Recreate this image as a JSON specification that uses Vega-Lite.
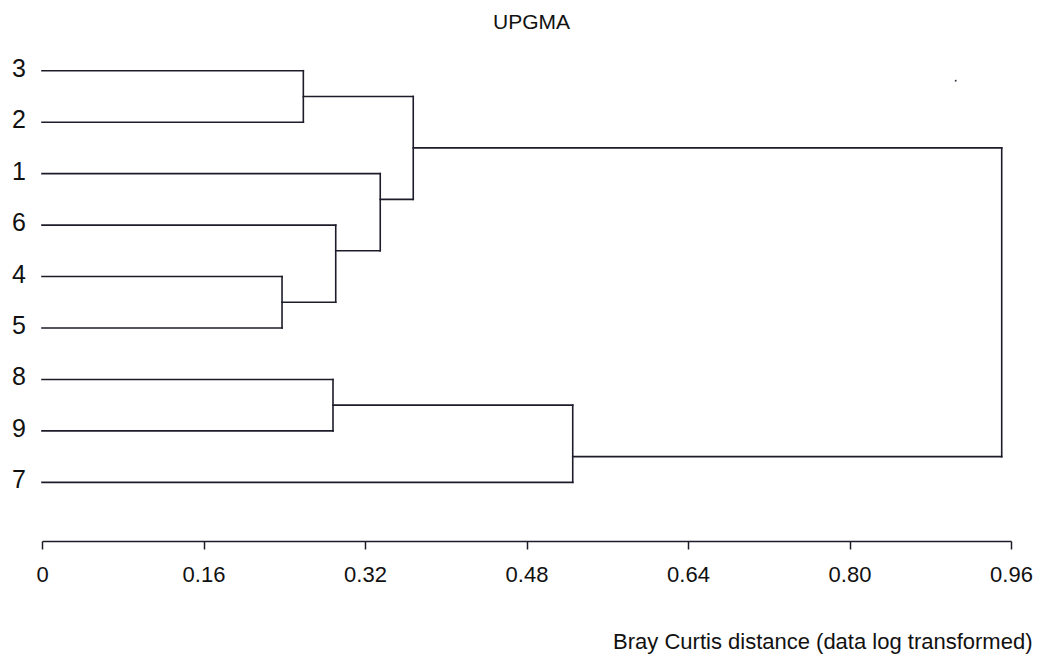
{
  "$schema": "https://vega.github.io/schema/vega-lite/v6.json",
  "autosize": {"type": "none"},
  "width": 969,
  "height": 496,
  "padding": {"left": 42, "top": 45, "right": 26, "bottom": 116},
  "background": "white",
  "config": {"view": {"stroke": null}, "font": "Liberation Sans"},
  "title": {"text": "UPGMA", "fontSize": 21, "fontWeight": "normal", "font": "Liberation Sans", "color": "#111111", "anchor": "middle", "dx": 5, "offset": 12},
  "datasets": {
    "segments": [
      {"x1": 0, "x2": 0.2589, "y1": 0, "y2": 0},
      {"x1": 0, "x2": 0.2589, "y1": 1, "y2": 1},
      {"x1": 0, "x2": 0.3351, "y1": 2, "y2": 2},
      {"x1": 0, "x2": 0.2910, "y1": 3, "y2": 3},
      {"x1": 0, "x2": 0.2378, "y1": 4, "y2": 4},
      {"x1": 0, "x2": 0.2378, "y1": 5, "y2": 5},
      {"x1": 0, "x2": 0.2883, "y1": 6, "y2": 6},
      {"x1": 0, "x2": 0.2883, "y1": 7, "y2": 7},
      {"x1": 0, "x2": 0.5258, "y1": 8, "y2": 8},
      {"x1": 0.2589, "x2": 0.3678, "y1": 0.5, "y2": 0.5},
      {"x1": 0.2378, "x2": 0.2910, "y1": 4.5, "y2": 4.5},
      {"x1": 0.2910, "x2": 0.3351, "y1": 3.5, "y2": 3.5},
      {"x1": 0.3351, "x2": 0.3678, "y1": 2.5, "y2": 2.5},
      {"x1": 0.3678, "x2": 0.9508, "y1": 1.5, "y2": 1.5},
      {"x1": 0.2883, "x2": 0.5258, "y1": 6.5, "y2": 6.5},
      {"x1": 0.5258, "x2": 0.9508, "y1": 7.5, "y2": 7.5},
      {"x1": 0.2589, "x2": 0.2589, "y1": 0, "y2": 1},
      {"x1": 0.2378, "x2": 0.2378, "y1": 4, "y2": 5},
      {"x1": 0.2910, "x2": 0.2910, "y1": 3, "y2": 4.5},
      {"x1": 0.3351, "x2": 0.3351, "y1": 2, "y2": 3.5},
      {"x1": 0.3678, "x2": 0.3678, "y1": 0.5, "y2": 2.5},
      {"x1": 0.2883, "x2": 0.2883, "y1": 6, "y2": 7},
      {"x1": 0.5258, "x2": 0.5258, "y1": 6.5, "y2": 8},
      {"x1": 0.9508, "x2": 0.9508, "y1": 1.5, "y2": 7.5}
    ],
    "leaves": [
      {"label": "3", "row": 0},
      {"label": "2", "row": 1},
      {"label": "1", "row": 2},
      {"label": "6", "row": 3},
      {"label": "4", "row": 4},
      {"label": "5", "row": 5},
      {"label": "8", "row": 6},
      {"label": "9", "row": 7},
      {"label": "7", "row": 8}
    ],
    "dot": [{"x": 0.9052, "y": 0.194}]
  },
  "layer": [
    {
      "data": {"name": "segments"},
      "mark": {"type": "rule", "color": "#1c1c2a", "strokeWidth": 1.6, "strokeCap": "square"},
      "encoding": {
        "x": {"field": "x1", "type": "quantitative",
          "scale": {"domain": [0, 0.96], "nice": false, "zero": true},
          "axis": {
            "values": [0, 0.16, 0.32, 0.48, 0.64, 0.8, 0.96],
            "labelExpr": "datum.value == 0 ? '0' : format(datum.value, '.2f')",
            "grid": false,
            "domainColor": "#1c1c2a", "domainWidth": 1.5,
            "tickColor": "#1c1c2a", "tickWidth": 1.5, "tickSize": 8,
            "labelFontSize": 22, "labelColor": "#111111", "labelFont": "Liberation Sans",
            "labelPadding": 15, "labelFlush": false, "labelOverlap": false,
            "title": "Bray Curtis distance (data log transformed)",
            "titleFontSize": 22, "titleFontWeight": "normal", "titleColor": "#111111", "titleFont": "Liberation Sans",
            "titleAlign": "right", "titleAnchor": "end", "titleBaseline": "alphabetic",
            "titleX": 990, "titleY": 107
          }
        },
        "x2": {"field": "x2"},
        "y": {"field": "y1", "type": "quantitative",
          "scale": {"domain": [-0.5, 9.14], "reverse": true, "nice": false, "zero": false},
          "axis": null},
        "y2": {"field": "y2"}
      }
    },
    {
      "data": {"name": "leaves"},
      "mark": {"type": "text", "fontSize": 25, "font": "Liberation Sans", "color": "#111111", "align": "center", "baseline": "middle", "dx": -23, "dy": -2},
      "encoding": {
        "x": {"datum": 0, "type": "quantitative"},
        "y": {"field": "row", "type": "quantitative"},
        "text": {"field": "label"}
      }
    },
    {
      "data": {"name": "dot"},
      "mark": {"type": "square", "size": 3, "color": "#333344", "opacity": 1},
      "encoding": {
        "x": {"field": "x", "type": "quantitative"},
        "y": {"field": "y", "type": "quantitative"}
      }
    }
  ]
}
